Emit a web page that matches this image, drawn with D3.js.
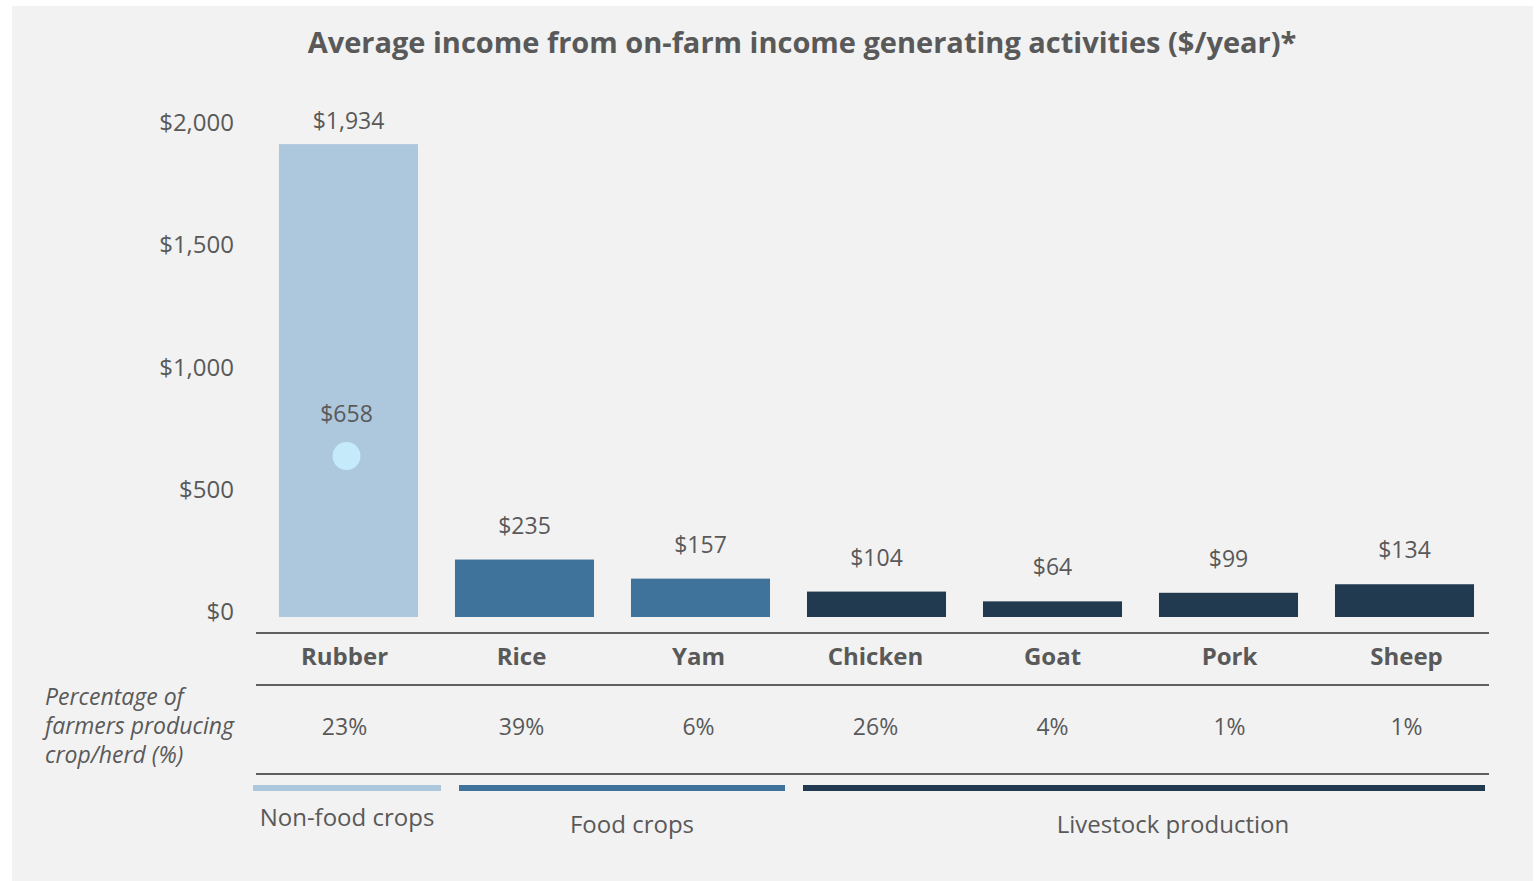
<!DOCTYPE html>
<html>
<head>
<meta charset="utf-8">
<script src="https://cdn.jsdelivr.net/npm/d3@7"></script>
<style>
  html, body { margin: 0; padding: 0; background: #ffffff; }
  svg { display: block; }
  text { font-family: "Open Sans", "Noto Sans", sans-serif; fill: #595959; }
</style>
</head>
<body>
<script>
// Income per activity ($/year)
const categories = ["Rubber", "Rice", "Yam", "Chicken", "Goat", "Pork", "Sheep"];
const incomes = [1934, 235, 157, 104, 64, 99, 134];
const groupOf = ["Non-food crops", "Food crops", "Food crops", "Livestock production", "Livestock production", "Livestock production", "Livestock production"];
const shares = ["23%", "39%", "6%", "26%", "4%", "1%", "1%"];
// Secondary marker on the Rubber bar
const markerCategory = "Rubber";
const markerValue = 658;
const groups = ["Non-food crops", "Food crops", "Livestock production"];
const groupColors = ["#adc7dc", "#3f739c", "#213a4f"];
const yTicks = [0, 500, 1000, 1500, 2000];

const W = 1537, H = 881;
const svg = d3.select("body").append("svg").attr("width", W).attr("height", H);

// panel background
svg.append("rect").attr("x", 12).attr("y", 6).attr("width", 1521).attr("height", H - 6).attr("fill", "#f2f2f2");

svg.append("text")
  .attr("x", 802).attr("y", 53)
  .attr("text-anchor", "middle")
  .style("font-size", "29px").style("font-weight", "700")
  .text("Average income from on-farm income generating activities ($/year)*");

const x = d3.scaleBand().domain(categories).range([260.5, 1492.5]).paddingInner(0.21).paddingOuter(0.105);
const y = d3.scaleLinear().domain([0, 2000]).range([617, 128]);
const color = d3.scaleOrdinal().domain(groups).range(groupColors);
// columns of the table below the chart
const col = d3.scaleBand().domain(categories).range([256, 1495]);

// y axis labels only
const yAxis = d3.axisLeft(y).tickValues(yTicks).tickSize(0).tickPadding(0)
  .tickFormat(d => "$" + d3.format(",")(d));
const ya = svg.append("g").attr("transform", "translate(234,-5)").call(yAxis);
ya.select(".domain").remove();
ya.selectAll("text").style("font-size", "24px").attr("fill", "#595959").style("font-family", null);

// bars
svg.append("g").selectAll("rect").data(categories).join("rect")
  .attr("x", d => x(d))
  .attr("width", x.bandwidth())
  .attr("y", (d, i) => y(incomes[i]))
  .attr("height", (d, i) => y(0) - y(incomes[i]))
  .attr("fill", (d, i) => color(groupOf[i]));

// value labels
svg.append("g").selectAll("text").data(categories).join("text")
  .attr("x", d => x(d) + x.bandwidth() / 2)
  .attr("y", (d, i) => Math.max(y(incomes[i]) - 26, 129))
  .attr("text-anchor", "middle")
  .style("font-size", "23px")
  .text((d, i) => "$" + d3.format(",")(incomes[i]));

// marker
const mx = x(markerCategory) + x.bandwidth() / 2 - 2;
svg.append("circle").attr("cx", mx).attr("cy", y(markerValue)).attr("r", 14).attr("fill", "#c5ebfb");
svg.append("text").attr("x", mx).attr("y", y(markerValue) - 34)
  .attr("text-anchor", "middle").style("font-size", "23px")
  .text("$" + markerValue);

// table rules
const tableX0 = 256, tableX1 = 1489;
[633, 685, 774].forEach(ly => {
  svg.append("line").attr("x1", tableX0).attr("x2", tableX1).attr("y1", ly).attr("y2", ly)
    .attr("stroke", "#5f5f5f").attr("stroke-width", 2);
});

// category names
svg.append("g").selectAll("text").data(categories).join("text")
  .attr("x", d => col(d) + col.bandwidth() / 2)
  .attr("y", 665)
  .attr("text-anchor", "middle")
  .style("font-size", "24px").style("font-weight", "700")
  .text(d => d);

// shares
svg.append("g").selectAll("text").data(categories).join("text")
  .attr("x", d => col(d) + col.bandwidth() / 2)
  .attr("y", 735)
  .attr("text-anchor", "middle")
  .style("font-size", "23px")
  .text((d, i) => shares[i]);

// row header
const rowHead = ["Percentage of", "farmers producing", "crop/herd (%)"];
svg.append("g").selectAll("text").data(rowHead).join("text")
  .attr("x", 45).attr("y", (d, i) => 705 + i * 29)
  .style("font-size", "23px").style("font-style", "italic")
  .text(d => d);

// group bands under the table
const groupSpans = [[253, 441], [459, 785], [803, 1485]];
const groupLabelX = [347, 632, 1173];
const groupLabelY = [826, 833, 833];
groups.forEach((g, i) => {
  const [a, b] = groupSpans[i];
  svg.append("rect").attr("x", a).attr("y", 785).attr("width", b - a).attr("height", 6).attr("fill", color(g));
  svg.append("text").attr("x", groupLabelX[i]).attr("y", groupLabelY[i])
    .attr("text-anchor", "middle").style("font-size", "24px").text(g);
});
</script>
</body>
</html>
